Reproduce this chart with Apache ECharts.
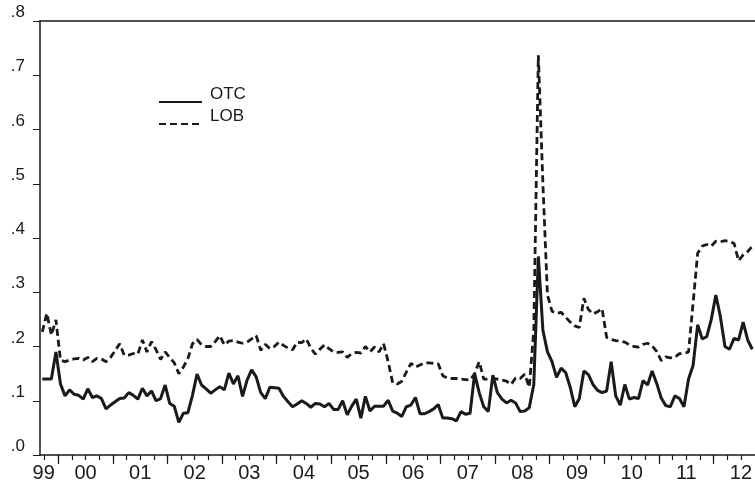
<!DOCTYPE html>
<html>
<head>
<meta charset="utf-8">
<script src="https://cdn.jsdelivr.net/npm/echarts@6/dist/echarts.min.js"></script>
<style>
html,body{margin:0;padding:0;background:#fff;}
#c{width:755px;height:484px;}
</style>
</head>
<body>
<div id="c"></div>
<script>
// Month index: months since Jan 1999 (0 = Jan 1999). Series start Sep 1999 (index 8).
const startMonth = 8;
const yearLabels = ['99','00','01','02','03','04','05','06','07','08','09','10','11','12'];
const seriesNames = ['OTC','LOB'];
const otc = [
0.140,0.140,0.140,0.190,
0.131,0.109,0.120,0.112,0.110,0.103,0.122,0.106,0.109,0.104,0.085,0.092,
0.098,0.104,0.105,0.115,0.110,0.103,0.123,0.109,0.118,0.100,0.104,0.129,
0.095,0.090,0.060,0.077,0.078,0.110,0.149,0.129,0.122,0.114,0.120,0.126,
0.120,0.151,0.131,0.146,0.108,0.138,0.157,0.144,0.115,0.104,0.125,0.124,
0.123,0.108,0.098,0.089,0.094,0.100,0.095,0.088,0.095,0.094,0.089,0.095,
0.084,0.084,0.100,0.074,0.090,0.103,0.068,0.108,0.081,0.090,0.090,0.090,
0.101,0.081,0.077,0.071,0.089,0.092,0.106,0.076,0.076,0.080,0.085,0.093,
0.068,0.068,0.067,0.063,0.080,0.075,0.077,0.150,0.115,0.089,0.080,0.147,
0.115,0.103,0.096,0.101,0.096,0.080,0.081,0.087,0.130,0.366,0.230,0.190,
0.172,0.143,0.160,0.152,0.125,0.089,0.104,0.155,0.148,0.130,0.119,0.115,
0.118,0.172,0.109,0.092,0.130,0.103,0.106,0.104,0.137,0.129,0.155,0.132,
0.105,0.091,0.089,0.109,0.104,0.089,0.140,0.165,0.240,0.214,0.218,0.250,
0.295,0.255,0.200,0.195,0.215,0.212,0.245,0.212,0.195
];
const lob = [
0.227,0.261,0.221,0.249,
0.175,0.172,0.175,0.177,0.178,0.175,0.180,0.172,0.178,0.177,0.172,0.180,
0.192,0.205,0.184,0.184,0.187,0.186,0.212,0.190,0.209,0.194,0.176,0.190,
0.180,0.170,0.150,0.162,0.178,0.205,0.213,0.203,0.200,0.200,0.209,0.220,
0.203,0.210,0.211,0.208,0.206,0.208,0.214,0.220,0.193,0.204,0.196,0.200,
0.208,0.202,0.197,0.194,0.208,0.207,0.214,0.197,0.186,0.195,0.203,0.196,
0.190,0.189,0.190,0.180,0.187,0.189,0.188,0.200,0.190,0.199,0.190,0.205,
0.172,0.133,0.131,0.136,0.153,0.169,0.162,0.166,0.170,0.170,0.169,0.168,
0.146,0.142,0.141,0.141,0.140,0.139,0.138,0.150,0.172,0.140,0.140,0.141,
0.140,0.138,0.136,0.130,0.142,0.141,0.149,0.125,0.230,0.737,0.500,0.295,
0.265,0.261,0.263,0.254,0.245,0.238,0.235,0.289,0.268,0.260,0.264,0.270,
0.217,0.213,0.211,0.210,0.208,0.203,0.200,0.199,0.204,0.206,0.201,0.191,
0.174,0.181,0.179,0.180,0.187,0.187,0.190,0.280,0.372,0.385,0.388,0.385,
0.394,0.393,0.395,0.394,0.390,0.358,0.369,0.375,0.385
];
const yTicks = ['.0','.1','.2','.3','.4','.5','.6','.7','.8'];

function pairs(arr){ return arr.map((v,i)=>[startMonth+i, v]); }

const xMin = startMonth - 0.5;
const xMax = 164.5;
const quarterTicks = [];
for (let t = 8.5; t < xMax; t += 3) quarterTicks.push(t);
const yearTicks = [];
for (let t = 11.5; t < xMax; t += 12) yearTicks.push(t);
const labelPos = yearLabels.map((s,i)=> i===0 ? 8.3 : 17.5 + 12*(i-1));

const FONT = 'Liberation Sans, Arial, Helvetica, sans-serif';
const INK = '#1a1a1a';

function legendFor(name, top){
  return {
    orient:'vertical', left:158, top:top, padding:0, itemWidth:43, itemHeight:14,
    data:[name],
    itemStyle:{opacity:0},
    formatter:'{a|{name}}',
    textStyle:{fontFamily:FONT, fontSize:17, color:INK,
      rich:{a:{fontFamily:FONT, fontSize:17, color:INK, padding:[0,0,15,3]}}}
  };
}

const chart = echarts.init(document.getElementById('c'), null, {renderer:'canvas'});
chart.setOption({
  animation:false,
  backgroundColor:'#fff',
  grid:{left:40, right:0, top:21, bottom:29, containLabel:false},
  legend:[legendFor(seriesNames[0], 86), legendFor(seriesNames[1], 108)],
  xAxis:[
    {type:'value', min:xMin, max:xMax, position:'bottom',
     axisLine:{show:true, onZero:false, lineStyle:{color:INK, width:1.5}},
     axisTick:{show:true, customValues:quarterTicks, length:5, lineStyle:{color:INK, width:1.2}},
     axisLabel:{show:false}, splitLine:{show:false}},
    {type:'value', min:xMin, max:xMax, position:'bottom',
     axisLine:{show:false},
     axisTick:{show:true, customValues:yearTicks, length:9, lineStyle:{color:INK, width:1.2}},
     axisLabel:{show:true, customValues:labelPos, margin:8,
       fontFamily:FONT, fontSize:20, color:INK,
       formatter:function(v){ const i = labelPos.findIndex(p=>Math.abs(p-v)<0.01); return i>=0 ? yearLabels[i] : ''; }},
     splitLine:{show:false}},
    {type:'value', min:xMin, max:xMax, position:'top',
     axisLine:{show:true, onZero:false, lineStyle:{color:INK, width:1.5}},
     axisTick:{show:false}, axisLabel:{show:false}, splitLine:{show:false}}
  ],
  yAxis:{type:'value', min:0, max:0.8, interval:0.1,
    axisLine:{show:true, lineStyle:{color:INK, width:1.5}},
    axisTick:{show:true, length:7, lineStyle:{color:INK, width:1}},
    axisLabel:{margin:15, fontFamily:FONT, fontSize:17, color:INK, verticalAlign:'bottom',
      formatter:function(v){ return yTicks[Math.round(v*10)]; }},
    splitLine:{show:false}},
  series:[
    {name:seriesNames[0], type:'line', xAxisIndex:0, data:pairs(otc), showSymbol:false, symbol:'none',
     lineStyle:{color:INK, width:3}, itemStyle:{color:INK}},
    {name:seriesNames[1], type:'line', xAxisIndex:0, data:pairs(lob), showSymbol:false, symbol:'none',
     lineStyle:{color:INK, width:2.8, type:[7,4]}, itemStyle:{color:INK}}
  ]
});
</script>
</body>
</html>
